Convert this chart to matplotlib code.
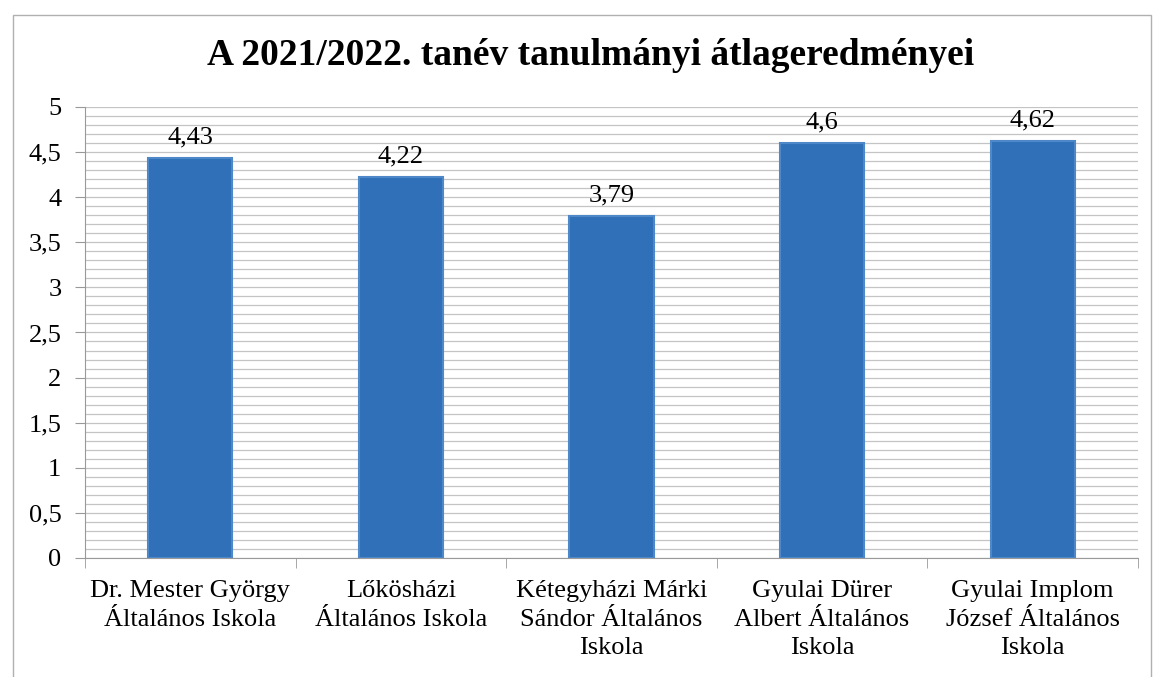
import matplotlib.pyplot as plt
import numpy as np
from matplotlib.patches import Rectangle
from matplotlib.ticker import FuncFormatter, MultipleLocator

plt.rcParams["font.family"] = ["Liberation Serif", "DejaVu Serif"]

title = "A 2021/2022. tanév tanulmányi átlageredményei"
schools = [
    "Dr. Mester György\nÁltalános Iskola",
    "Lőkösházi\nÁltalános Iskola",
    "Kétegyházi Márki\nSándor Általános\nIskola",
    "Gyulai Dürer\nAlbert Általános\nIskola",
    "Gyulai Implom\nJózsef Általános\nIskola",
]
averages = [4.43, 4.22, 3.79, 4.6, 4.62]
value_labels = ["4,43", "4,22", "3,79", "4,6", "4,62"]

fig = plt.figure(figsize=(11.56, 6.77), dpi=100)
ax = fig.add_axes([0.0735, 0.1758, 0.9109, 0.6662])

# chart frame
fig.patches.append(
    Rectangle((0.011, -0.01), 0.985, 0.988, transform=fig.transFigure,
              fill=False, edgecolor="#b0b0b0", linewidth=1.0)
)

x = np.arange(len(schools))
bars = ax.bar(x, averages, width=0.4, color="#2f70b8", edgecolor="#4f88c8",
              linewidth=1.5, zorder=3)

for xi, v, lab in zip(x, averages, value_labels):
    ax.text(xi, v + 0.11, lab, ha="center", va="bottom", fontsize=19)

ax.set_xlim(-0.5, len(schools) - 0.5)
ax.set_ylim(0, 5)
ax.yaxis.set_major_locator(MultipleLocator(0.5))
ax.yaxis.set_minor_locator(MultipleLocator(0.1))
ax.yaxis.set_major_formatter(
    FuncFormatter(lambda v, _: f"{v:g}".replace(".", ","))
)
ax.grid(axis="y", which="both", color="#c4c4c4", linewidth=0.9, zorder=0)
ax.tick_params(axis="y", which="minor", length=0)
ax.tick_params(axis="y", which="major", labelsize=19, length=7,
               color="#999999", pad=10)

ax.set_xticks(x)
ax.set_xticklabels(schools, fontsize=19, linespacing=1.38)
ax.set_xticks(np.arange(len(schools) + 1) - 0.5, minor=True)
ax.tick_params(axis="x", which="major", length=0, pad=16)
ax.tick_params(axis="x", which="minor", length=7, color="#999999")

for side in ["top", "right"]:
    ax.spines[side].set_visible(False)
for side in ["left", "bottom"]:
    ax.spines[side].set_color("#999999")

fig.text(0.511, 0.918, title, ha="center", va="center", fontsize=27,
         fontweight="bold")

fig.savefig("out.png", dpi=100)
